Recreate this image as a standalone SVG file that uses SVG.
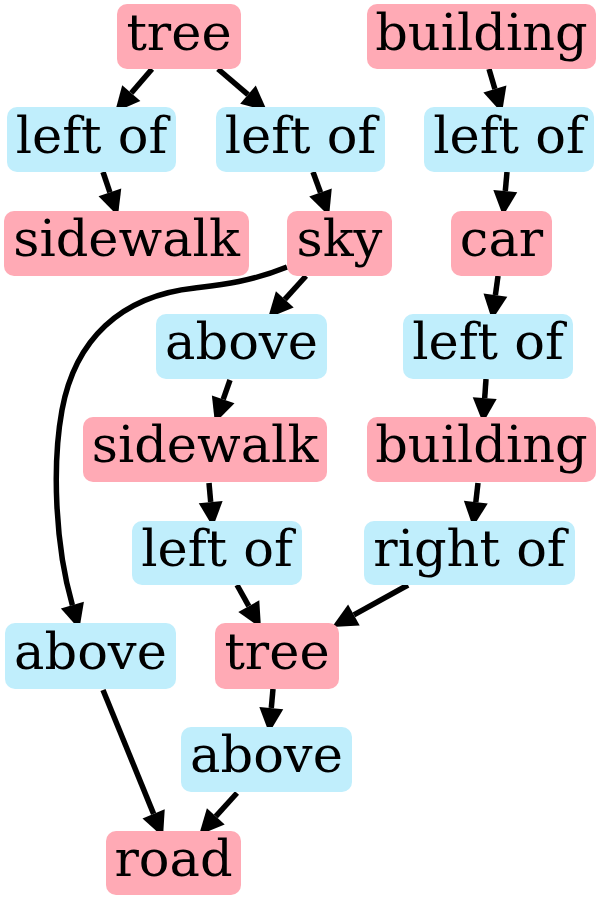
<svg xmlns="http://www.w3.org/2000/svg" width="600" height="900" viewBox="0 0 600 900">
<style>
.o rect{fill:#ffaab5}
.r rect{fill:#c0eefc}
text{font-family:"DejaVu Serif",serif;font-size:51px;text-anchor:middle;fill:#000}
.e path,.e line{stroke:#000;stroke-width:5.5;fill:none}
</style>
<defs>
<marker id="a" markerUnits="userSpaceOnUse" markerWidth="30" markerHeight="30" viewBox="0 0 30 30" refX="0" refY="12" orient="auto" overflow="visible">
<path d="M0,0 L25,12 L0,24 z" fill="#000"/>
</marker>
</defs>
<rect width="600" height="900" fill="#fff"/>
<g class="e" id="edges">
<line x1="152" y1="69" x2="131.3" y2="93.05" marker-end="url(#a)"/>
<line x1="218" y1="69" x2="248" y2="94.7" marker-end="url(#a)"/>
<line x1="103" y1="172" x2="109.9" y2="192.3" marker-end="url(#a)"/>
<line x1="313" y1="172" x2="320.5" y2="192.5" marker-end="url(#a)"/>
<line x1="489" y1="69" x2="494.9" y2="89" marker-end="url(#a)"/>
<line x1="507" y1="172" x2="505.3" y2="191.1" marker-end="url(#a)"/>
<line x1="498" y1="276" x2="495.4" y2="295.2" marker-end="url(#a)"/>
<line x1="486" y1="379" x2="484.7" y2="398.1" marker-end="url(#a)"/>
<line x1="478" y1="483" x2="475.8" y2="502.2" marker-end="url(#a)"/>
<line x1="408" y1="585" x2="353.9" y2="614.9" marker-end="url(#a)"/>
<line x1="306" y1="276" x2="284.8" y2="299.4" marker-end="url(#a)"/>
<path d="M287,267 C250,282 220,285 195,288 C120,296 75,340 62,410 C52,465 55,545 72.4,605.2" marker-end="url(#a)"/>
<line x1="230" y1="380" x2="223.2" y2="399.4" marker-end="url(#a)"/>
<line x1="209" y1="483" x2="210.7" y2="502.1" marker-end="url(#a)"/>
<line x1="237" y1="585" x2="248.8" y2="606.2" marker-end="url(#a)"/>
<line x1="273" y1="689" x2="271.3" y2="708.1" marker-end="url(#a)"/>
<line x1="103" y1="690" x2="153.6" y2="813.9" marker-end="url(#a)"/>
<line x1="237" y1="793" x2="215.8" y2="816.4" marker-end="url(#a)"/>
</g>
<g id="tree1" class="o"><rect x="117" y="4" width="124" height="65" rx="10"/><text x="179" y="50">tree</text></g>
<g id="building1" class="o"><rect x="367" y="4" width="229" height="65" rx="10"/><text x="481.5" y="50">building</text></g>
<g id="leftof1" class="r"><rect x="7" y="107" width="169" height="65" rx="10"/><text x="91.5" y="153">left of</text></g>
<g id="leftof2" class="r"><rect x="216" y="107" width="169" height="65" rx="10"/><text x="300.5" y="153">left of</text></g>
<g id="leftof3" class="r"><rect x="424" y="107" width="170" height="65" rx="10"/><text x="509" y="153">left of</text></g>
<g id="sidewalk1" class="o"><rect x="4" y="211" width="245" height="65" rx="10"/><text x="126.5" y="256">sidewalk</text></g>
<g id="sky" class="o"><rect x="287" y="211" width="105" height="65" rx="10"/><text x="339.5" y="256">sky</text></g>
<g id="car" class="o"><rect x="451" y="211" width="101" height="65" rx="10"/><text x="501.5" y="256">car</text></g>
<g id="above1" class="r"><rect x="156" y="314" width="171" height="65" rx="10"/><text x="241.5" y="359">above</text></g>
<g id="leftof5" class="r"><rect x="403" y="314" width="170" height="65" rx="10"/><text x="488" y="359">left of</text></g>
<g id="sidewalk2" class="o"><rect x="83" y="417" width="244" height="65" rx="10"/><text x="205" y="462">sidewalk</text></g>
<g id="building2" class="o"><rect x="367" y="417" width="229" height="65" rx="10"/><text x="481.5" y="462">building</text></g>
<g id="leftof4" class="r"><rect x="132" y="521" width="170" height="64" rx="10"/><text x="217" y="566">left of</text></g>
<g id="rightof" class="r"><rect x="364" y="521" width="211" height="64" rx="10"/><text x="469.5" y="566">right of</text></g>
<g id="above2" class="r"><rect x="5" y="623" width="171" height="66" rx="10"/><text x="90.5" y="669">above</text></g>
<g id="tree2" class="o"><rect x="215" y="623" width="124" height="66" rx="10"/><text x="277" y="669">tree</text></g>
<g id="above3" class="r"><rect x="181" y="727" width="171" height="65" rx="10"/><text x="266.5" y="772">above</text></g>
<g id="road" class="o"><rect x="106" y="831" width="135" height="64" rx="10"/><text x="173.5" y="876">road</text></g>
</svg>
